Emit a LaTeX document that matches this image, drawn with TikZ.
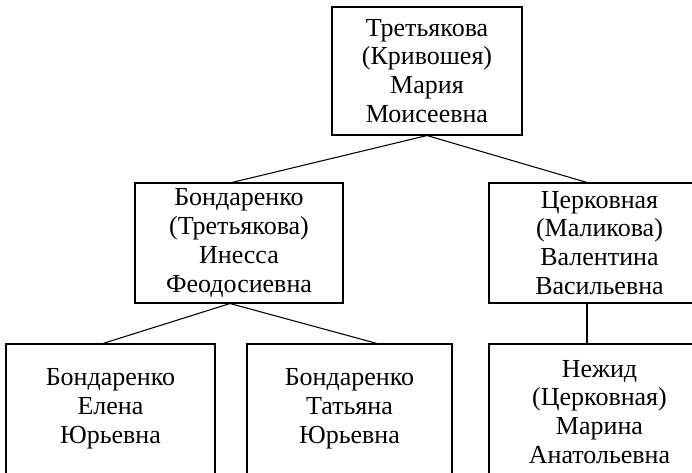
\documentclass[tikz,border=0pt]{standalone}
\usepackage{fontspec}
\setmainfont{Liberation Serif}
\usepackage{tikz}
\usetikzlibrary{calc}
\tikzset{
  treebox/.style = {rectangle, draw=black, line width=0.8pt, align=center,
                    inner sep=0pt, font=\fontsize{19.5}{21.6}\selectfont},
  treeline/.style = {draw=black, line width=0.8pt}
}

\begin{document}
\begin{tikzpicture}[x=0.75pt, y=0.75pt]
\clip (0,0) rectangle (692,472);
\node[treebox, minimum width=142.5pt, minimum height=96pt] (mar) at (427,401)
  {Третьякова\\(Кривошея)\\Мария\\Моисеевна};
\node[treebox, minimum width=156pt, minimum height=90pt] (ine) at (239,229)
  {Бондаренко\\(Третьякова)\\Инесса\\Феодосиевна};
\node[treebox, minimum width=165.75pt, minimum height=90pt] (val) at (599.5,229)
  {Церковная\\(Маликова)\\Валентина\\Васильевна};
\node[treebox, minimum width=156.75pt, minimum height=97.5pt] (ele) at (110.5,63)
  {Бондаренко\\Елена\\Юрьевна};
\node[treebox, minimum width=153.75pt, minimum height=97.5pt] (tat) at (349.5,63)
  {Бондаренко\\Татьяна\\Юрьевна};
\node[treebox, minimum width=165.75pt, minimum height=102pt] (mrn) at (599.5,60)
  {Нежид\\(Церковная)\\Марина\\Анатольевна};

% parent -> children
\draw[treeline] (mar.south) -- ($(ine.north)+(-7,0)$);
\draw[treeline] (mar.south) -- ($(val.north)+(-12.5,0)$);
\draw[treeline] ($(ine.south)+(-9,0)$) -- ($(ele.north)+(-7.5,0)$);
\draw[treeline] ($(ine.south)+(-9,0)$) -- ($(tat.north)+(27.5,0)$);
\draw[treeline] ($(val.south)+(-12.5,0)$) -- ($(mrn.north)+(-12.5,0)$);
\end{tikzpicture}
\end{document}
